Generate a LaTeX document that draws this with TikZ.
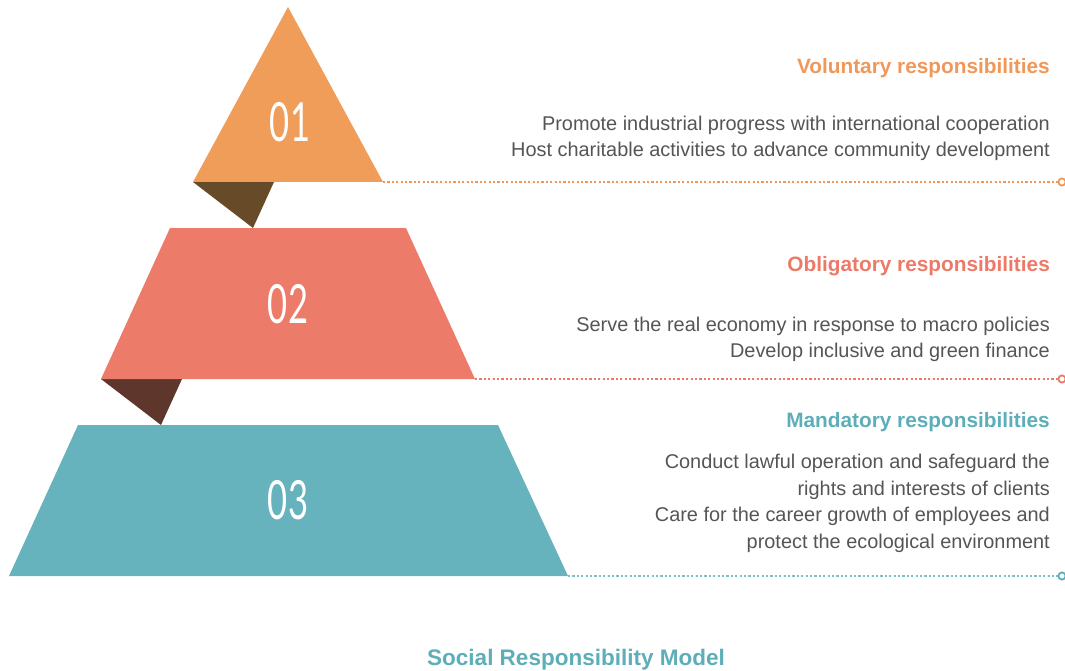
\documentclass[tikz,border=0pt]{standalone}
\usepackage{fontspec}
\setmainfont{Liberation Sans}
\newfontfamily\numfont{Lato}
\usepackage{graphicx}
\definecolor{orng}{HTML}{F19D5A}
\definecolor{salm}{HTML}{EC7B69}
\definecolor{teal2}{HTML}{66B3BD}
\definecolor{brwnA}{HTML}{674A28}
\definecolor{brwnB}{HTML}{5E362B}
\definecolor{bodygray}{HTML}{555555}
\definecolor{headO}{HTML}{F0975A}
\definecolor{headS}{HTML}{EC7A68}
\definecolor{headT}{HTML}{5DAEB9}
\tikzset{
  head/.style={anchor=base east, inner sep=0pt, font=\fontsize{20.8}{24}\selectfont\bfseries},
  body/.style={anchor=base east, inner sep=0pt, text=bodygray, font=\fontsize{19.9}{24}\selectfont},
  num/.style={inner sep=0pt, text=white, font=\fontsize{54}{60}\selectfont\numfont},
  guide/.style={line width=1.3pt, dash pattern=on 2.2pt off 2.2pt},
  endring/.style={line width=1.8pt}
}
\newcommand{\numtxt}[1]{\scalebox{0.64}[1]{#1}}
\begin{document}
\begin{tikzpicture}[x=1pt,y=-1pt]
\useasboundingbox (0,0) rectangle (1065,671);
% shapes
\fill[brwnA] (193,182) -- (274,182) -- (253,228) -- cycle;
\fill[orng] (288,7) -- (383,182) -- (193,182) -- cycle;
\fill[brwnB] (101,379) -- (182,379) -- (161,425) -- cycle;
\fill[salm] (170,228) -- (406,228) -- (475,379) -- (101,379) -- cycle;
\fill[teal2] (78,425) -- (498,425) -- (568,576) -- (9,576) -- cycle;
% numbers
\node[num] (n1) at (290,122) {\numtxt{01}};
\node[num] (n2) at (288,304) {\numtxt{02}};
\node[num] (n3) at (288,500) {\numtxt{03}};
% guide lines
\coordinate (g1s) at (383,182); \coordinate (g1e) at (1058,182);
\coordinate (g2s) at (475,379); \coordinate (g2e) at (1058,379);
\coordinate (g3s) at (568,576); \coordinate (g3e) at (1058,576);
\draw[guide, headO] (g1s) -- (g1e);
\draw[guide, headS] (g2s) -- (g2e);
\draw[guide, headT!80] (g3s) -- (g3e);
\draw[endring, headO] (1062,182) circle (3.6);
\draw[endring, headS] (1062,379) circle (3.6);
\draw[endring, headT] (1062,576) circle (3.6);
% texts
\node[head, text=headO] (h1) at (1050,74) {Voluntary responsibilities};
\node[body] (b11) at (1050,131) {Promote industrial progress with international cooperation};
\node[body] (b12) at (1050,157) {Host charitable activities to advance community development};
\node[head, text=headS] (h2) at (1050,271) {Obligatory responsibilities};
\node[body] (b21) at (1050,331) {Serve the real economy in response to macro policies};
\node[body] (b22) at (1050,357) {Develop inclusive and green finance};
\node[head, text=headT] (h3) at (1050,427) {Mandatory responsibilities};
\node[body] (b31) at (1050,468) {Conduct lawful operation and safeguard the};
\node[body] (b32) at (1050,495) {rights and interests of clients};
\node[body] (b33) at (1050,521) {Care for the career growth of employees and};
\node[body] (b34) at (1050,548) {protect the ecological environment};
\node[head, anchor=base, text=headT, font=\fontsize{22.5}{26}\selectfont\bfseries] (title) at (576,665) {Social Responsibility Model};
\end{tikzpicture}
\end{document}
